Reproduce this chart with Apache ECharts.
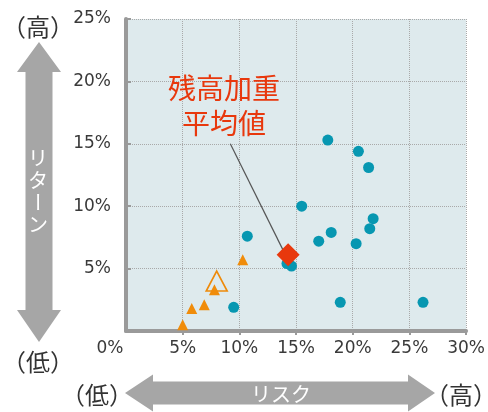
<!DOCTYPE html>
<html>
<head>
<meta charset="utf-8">
<script src="https://cdn.jsdelivr.net/npm/echarts@6/dist/echarts.min.js"></script>
<style>
html,body{margin:0;padding:0;background:#fff;}
#c{width:488px;height:412px;}
</style>
</head>
<body>
<div id="c"></div>
<script>
// ---- data (risk %, return %) ----
const xTicks = [0, 5, 10, 15, 20, 25, 30];
const yTicks = [0, 5, 10, 15, 20, 25];
const blueRisk   = [17.8, 20.5, 21.4, 15.5, 21.8, 21.5, 18.1, 17.0, 20.3, 10.7, 14.2, 14.6, 9.5, 18.9, 26.2];
const blueReturn = [15.3, 14.4, 13.1, 10.0, 9.0, 8.2, 7.9, 7.2, 7.0, 7.6, 5.4, 5.2, 1.9, 2.3, 2.3];
const orangeRisk   = [10.3, 7.8, 6.9, 5.8, 5.0];
const orangeReturn = [5.7, 3.3, 2.1, 1.8, 0.5];
const hollowRisk   = [8.0];
const hollowReturn = [4.0];
const avgRisk   = [14.3];
const avgReturn = [6.1];
const leaderRisk   = [9.2, 13.9];
const leaderReturn = [15.0, 6.4];
const annotation = ['残高加重', '平均値'];
const yArrowText = ['リ', 'タ', 'ー', 'ン'];
const xArrowText = 'リスク';
const lowLabel = '（低）';
const highLabel = '（高）';

const zip = (a, b) => a.map((v, i) => [v, b[i]]);
const FONT = '"Noto Sans CJK JP", "Noto Sans", sans-serif';
const NUMFONT = '"DejaVu Sans", sans-serif';
const GRAY = '#a6a6a6';
const TXT = '#3a3a3a';

const chart = echarts.init(document.getElementById('c'), null, {renderer: 'canvas'});

const graphics = [];
// vertical arrow
graphics.push({
  type: 'polygon', silent: true, z: 1,
  shape: {points: [[39,42],[61,72],[52.5,72],[52.5,310],[61,310],[39,342],[17,310],[25.5,310],[25.5,72],[17,72]]},
  style: {fill: GRAY}
});
// horizontal arrow
graphics.push({
  type: 'polygon', silent: true, z: 1,
  shape: {points: [[125,393],[153,374.5],[153,381.5],[408,381.5],[408,374.5],[435,393],[408,411.5],[408,404.5],[153,404.5],[153,411.5]]},
  style: {fill: GRAY}
});
// vertical arrow text
yArrowText.forEach((ch, i) => {
  graphics.push({
    type: 'text', silent: true, z: 2,
    x: 38, y: 158 + i * 22,
    rotation: ch === 'ー' ? -Math.PI / 2 : 0,
    style: {text: ch, fill: '#fff', font: '20px ' + FONT, align: 'center', verticalAlign: 'middle'}
  });
});
graphics.push({
  type: 'text', silent: true, z: 2, x: 281, y: 394,
  style: {text: xArrowText, fill: '#fff', font: '20px ' + FONT, align: 'center', verticalAlign: 'middle'}
});
// low/high labels
[[highLabel, 38, 27], [lowLabel, 38, 362], [lowLabel, 97, 395], [highLabel, 461, 395]].forEach(([t, x, y]) => {
  graphics.push({
    type: 'text', silent: true, z: 2, x: x, y: y,
    style: {text: t, fill: '#333', font: '24px ' + FONT, align: 'center', verticalAlign: 'middle'}
  });
});
// 0% shared label
graphics.push({
  type: 'text', silent: true, z: 2, x: 110, y: 349,
  style: {text: xTicks[0] + '%', fill: TXT, font: '17px ' + NUMFONT, align: 'center', verticalAlign: 'middle'}
});
// annotation
annotation.forEach((t, i) => {
  graphics.push({
    type: 'text', silent: true, z: 5, x: 224, y: 88 + i * 35,
    style: {text: t, fill: '#e8380d', font: '28px ' + FONT, align: 'center', verticalAlign: 'middle'}
  });
});

const option = {
  animation: false,
  backgroundColor: '#fff',
  grid: {left: 126, right: 21, top: 19, bottom: 81, show: true, backgroundColor: '#deeaed', borderWidth: 0},
  xAxis: {
    type: 'value', min: xTicks[0], max: xTicks[xTicks.length - 1], interval: 5,
    axisLine: {show: true, onZero: false, lineStyle: {color: '#9a9a9a', width: 4}},
    axisTick: {show: true, length: 4, lineStyle: {color: '#9a9a9a', width: 2}},
    axisLabel: {showMinLabel: false, formatter: '{value}%', color: TXT, fontSize: 17, fontFamily: NUMFONT, margin: 9},
    splitLine: {show: true, lineStyle: {color: '#a9a9a9', type: 'dotted', width: 1}}
  },
  yAxis: {
    type: 'value', min: yTicks[0], max: yTicks[yTicks.length - 1], interval: 5,
    axisLine: {show: true, onZero: false, lineStyle: {color: '#9a9a9a', width: 4}},
    axisTick: {show: true, inside: true, length: 5, lineStyle: {color: '#9a9a9a', width: 2}},
    axisLabel: {showMinLabel: false, formatter: '{value}%', color: TXT, fontSize: 17, fontFamily: NUMFONT, margin: 15},
    splitLine: {show: true, lineStyle: {color: '#a9a9a9', type: 'dotted', width: 1}}
  },
  graphic: graphics,
  series: [
    {
      type: 'line', data: zip(leaderRisk, leaderReturn), symbol: 'none', z: 3,
      lineStyle: {color: '#555', width: 1.2}, silent: true
    },
    {
      type: 'scatter', data: zip(blueRisk, blueReturn), symbol: 'circle', symbolSize: 11, z: 4,
      itemStyle: {color: '#0797b1', opacity: 1}
    },
    {
      type: 'scatter', data: zip(hollowRisk, hollowReturn), symbol: 'triangle', symbolSize: [21, 20], z: 4,
      itemStyle: {color: 'rgba(0,0,0,0)', borderColor: '#ee8a0a', borderWidth: 1.6, opacity: 1}
    },
    {
      type: 'scatter', data: zip(orangeRisk, orangeReturn), symbol: 'triangle', symbolSize: 11, z: 5,
      itemStyle: {color: '#f08c0a', opacity: 1}
    },
    {
      type: 'scatter', data: zip(avgRisk, avgReturn), symbol: 'diamond', symbolSize: 23, z: 6,
      itemStyle: {color: '#e8380d', opacity: 1}
    }
  ]
};
chart.setOption(option);
</script>
</body>
</html>
